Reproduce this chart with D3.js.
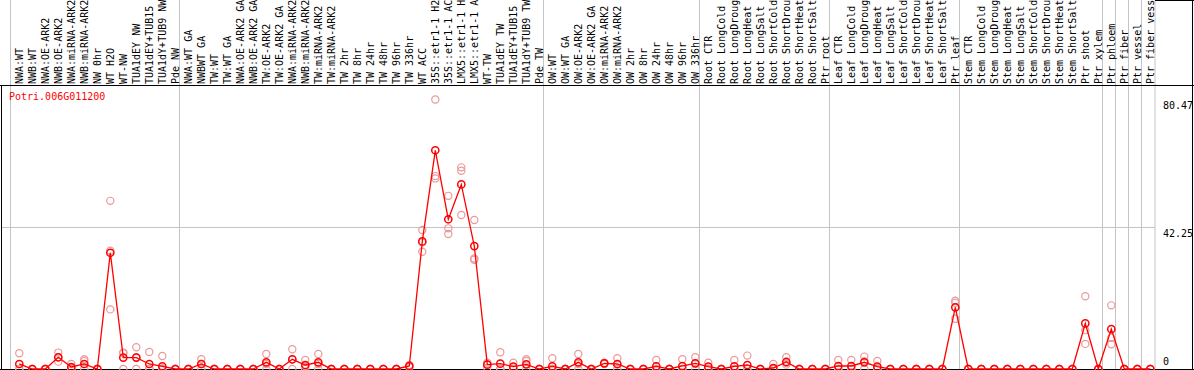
<!DOCTYPE html>
<html>
<head>
<meta charset="UTF-8">
<title>Potri.006G011200</title>
<script src="https://d3js.org/d3.v7.min.js"></script>
<style>
  body { margin: 0; background: #fff; }
  svg { display: block; font-family: "DejaVu Sans Mono", monospace; font-size: 10px; }
</style>
</head>
<body>
<svg width="1194" height="370"></svg>
<script>
// sample names, one per column
const samples = [
  "NWA:WT", "NWB:WT", "NWA:OE-ARK2", "NWB:OE-ARK2", "NWA:miRNA-ARK2", "NWB:miRNA-ARK2",
  "NW 0hr", "WT H2O", "WT-NW", "TUA1dEY NW", "TUA1dEY+TUB15 NW", "TUA1dY+TUB9 NW", "Pde NW",
  "NWA:WT GA", "NWBWT GA", "TW:WT", "TW:WT GA", "NWA:OE-ARK2 GA", "NWB:OE-ARK2 GA",
  "TW:OE-ARK2", "TW:OE-ARK2 GA", "NWA:miRNA-ARK2 GA", "NWB:miRNA-ARK2 GA", "TW:miRNA-ARK2",
  "TW:miRNA-ARK2 GA", "TW 2hr", "TW 8hr", "TW 24hr", "TW 48hr", "TW 96hr", "TW 336hr",
  "WT ACC", "35S::etr1-1 H2O", "35S::etr1-1 ACC", "LMX5::etr1-1 H2O", "LMX5::etr1-1 ACC",
  "WT-TW", "TUA1dEY TW", "TUA1dEY+TUB15 TW", "TUA1dY+TUB9 TW", "Pde TW",
  "OW:WT", "OW:WT GA", "OW:OE-ARK2", "OW:OE-ARK2 GA", "OW:miRNA-ARK2", "OW:miRNA-ARK2 GA",
  "OW 2hr", "OW 8hr", "OW 24hr", "OW 48hr", "OW 96hr", "OW 336hr",
  "Root CTR", "Root LongCold", "Root LongDrought", "Root LongHeat", "Root LongSalt",
  "Root ShortCold", "Root ShortDrought", "Root ShortHeat", "Root ShortSalt", "Ptr root",
  "Leaf CTR", "Leaf LongCold", "Leaf LongDrought", "Leaf LongHeat", "Leaf LongSalt",
  "Leaf ShortCold", "Leaf ShortDrought", "Leaf ShortHeat", "Leaf ShortSalt", "Ptr leaf",
  "Stem CTR", "Stem LongCold", "Stem LongDrought", "Stem LongHeat", "Stem LongSalt",
  "Stem ShortCold", "Stem ShortDrought", "Stem ShortHeat", "Stem ShortSalt", "Ptr shoot",
  "Ptr xylem", "Ptr phloem", "Ptr fiber", "Ptr vessel", "Ptr fiber vessel"
];

// mean expression per sample
const meanValues = [
  1.5, 0, 0, 3.5, 0.6, 1.5, 0, 34.7, 3.4, 3.4, 1.5, 0.8, 0,
  0, 1.5, 0, 0, 0, 0, 2.0, 0, 2.9, 1.2, 2.0, 0, 0, 0, 0, 0, 0, 0.9,
  38.1, 65.3, 44.7, 55.1, 36.7, 1.3, 1.6, 0.7, 1.4, 0,
  0.8, 0, 2.0, 0, 1.7, 1.5, 0, 0, 0.8, 0, 0.9, 1.7,
  0.7, 0, 0.8, 1.2, 0, 0.3, 2.1, 0, 0, 0,
  0.9, 0.9, 2.0, 0.7, 0, 0, 0, 0, 0, 18.4,
  0, 0, 0, 0, 0, 0, 0, 0, 0, 13.6,
  0, 11.9, 0, 0, 0
];

// three replicates per sample
const rep1 = [
  4.7, 0, 0, 4.9, 1.5, 2.9, 0, 50.2, 4.7, 6.5, 5.1, 3.9, 0,
  0, 2.9, 0, 0, 0, 0, 4.5, 0, 5.9, 2.7, 4.5, 0, 0, 0, 0, 0, 0, 1.2,
  41.5, 80.47, 51.7, 60.2, 44.5, 1.9, 5.0, 1.9, 2.9, 0,
  3.2, 0, 4.5, 0, 1.9, 3.2, 0, 0, 2.7, 0, 2.9, 3.5,
  1.9, 0, 2.7, 4.0, 0, 1.5, 3.5, 0, 0, 0,
  2.7, 2.7, 3.7, 2.4, 0, 0, 0, 0, 0, 20.4,
  0, 0, 0, 0, 0, 0, 0, 0, 0, 21.7,
  0, 19.0, 0, 0, 0
];
const rep2 = [
  0, 0, 0, 3.5, 0.3, 2.4, 0, 35.3, 4.9, 3.5, 0, 0.2, 0,
  0, 1.5, 0, 0, 0, 0, 1.5, 0, 2.8, 0.9, 1.5, 0, 0, 0, 0, 0, 0, 1.0,
  37.8, 57.6, 42.0, 59.2, 33.0, 1.4, 0, 0.2, 2.4, 0,
  0, 0, 1.5, 0, 1.7, 1.3, 0, 0, 0, 0, 0, 1.6,
  0.2, 0, 0, 0, 0, 0, 1.8, 0, 0, 0,
  0, 0, 2.3, 0, 0, 0, 0, 0, 0, 19.8,
  0, 0, 0, 0, 0, 0, 0, 0, 0, 11.6,
  0, 9.3, 0, 0, 0
];
const rep3 = [
  0, 0, 0, 2.2, 0, 0, 0, 17.8, 0, 0, 0, 0, 0,
  0, 0, 0, 0, 0, 0, 0, 0, 0, 0, 0, 0, 0, 0, 0, 0, 0, 0.5,
  35.0, 56.9, 40.3, 46.0, 32.6, 0.3, 0, 0, 0, 0,
  0, 0, 0, 0, 1.5, 0, 0, 0, 0, 0, 0, 0,
  0, 0, 0, 0, 0, 0, 1.3, 0, 0, 0,
  0, 0, 0, 0, 0, 0, 0, 0, 0, 15.0,
  0, 0, 0, 0, 0, 0, 0, 0, 0, 7.5,
  0, 7.4, 0, 0, 0
];

// first column of each sample group (last entry closes the final group)
const groupStarts = [0, 13, 41, 53, 63, 73, 84, 85, 86, 87, 88];
const yTicks = [0, 42.25, 80.47];
const geneName = "Potri.006G011200";

const width = 1194, height = 370;
const headerH = 86, plotBottom = 369, plotRight = 1155;

const svg = d3.select("svg");

const x = d3.scaleBand()
    .domain(d3.range(samples.length))
    .range([10.5, 10.5 + 13 * samples.length]);
const cx = i => x(i) + 8.8;

const y = d3.scaleLinear()
    .domain([0, d3.max(yTicks) * 1.05])
    .range([plotBottom, headerH]);

// group separators
svg.append("g").selectAll("line")
  .data(groupStarts)
  .join("line")
    .attr("x1", d => d < samples.length ? x(d) : plotRight)
    .attr("x2", d => d < samples.length ? x(d) : plotRight)
    .attr("y1", 0).attr("y2", height)
    .attr("stroke", "#c4c4c4");

// horizontal grid at mid tick
svg.append("line")
    .attr("x1", 1).attr("x2", plotRight)
    .attr("y1", Math.round(y(42.25)) + 0.5).attr("y2", Math.round(y(42.25)) + 0.5)
    .attr("stroke", "#c4c4c4");

// sample labels in header
svg.append("g").selectAll("text")
  .data(samples)
  .join("text")
    .attr("transform", (d, i) => `translate(${cx(i) + 4},84) rotate(-90)`)
    .attr("fill", "#000")
    .text(d => d);

// frame
const frame = svg.append("g").attr("stroke", "#000").attr("fill", "none");
frame.append("line").attr("x1", 0).attr("x2", width).attr("y1", 85.5).attr("y2", 85.5);
frame.append("line").attr("x1", 0).attr("x2", width).attr("y1", 369.5).attr("y2", 369.5);
frame.append("line").attr("x1", 1.5).attr("x2", 1.5).attr("y1", 85.5).attr("y2", height);
frame.append("line").attr("x1", 1192.5).attr("x2", 1192.5).attr("y1", 0).attr("y2", height);
frame.append("line").attr("x1", plotRight).attr("x2", width).attr("y1", 0.5).attr("y2", 0.5);

// y tick labels on the right
svg.append("g").selectAll("text")
  .data(yTicks)
  .join("text")
    .attr("x", 1163)
    .attr("y", d => d === 0 ? y(d) - 4 : y(d) + 10)
    .attr("fill", "#000")
    .text(d => d);

svg.append("text")
    .attr("x", 9).attr("y", 100)
    .attr("fill", "#f00")
    .text(geneName);

// replicate points
const reps = [];
[rep1, rep2, rep3].forEach(r => r.forEach((v, i) => reps.push({ i, v })));
svg.append("g").selectAll("circle")
  .data(reps)
  .join("circle")
    .attr("cx", d => cx(d.i))
    .attr("cy", d => y(d.v))
    .attr("r", 3.6)
    .attr("fill", "none")
    .attr("stroke", "#ec9898")
    .attr("stroke-width", 1.2);

// mean line and points
svg.append("path")
    .datum(meanValues)
    .attr("fill", "none")
    .attr("stroke", "#f00")
    .attr("stroke-width", 1.3)
    .attr("d", d3.line().x((d, i) => cx(i)).y(d => y(d)));

svg.append("g").selectAll("circle")
  .data(meanValues)
  .join("circle")
    .attr("cx", (d, i) => cx(i))
    .attr("cy", d => y(d))
    .attr("r", 3.6)
    .attr("fill", "none")
    .attr("stroke", "#f00")
    .attr("stroke-width", 1.5);
</script>
</body>
</html>
